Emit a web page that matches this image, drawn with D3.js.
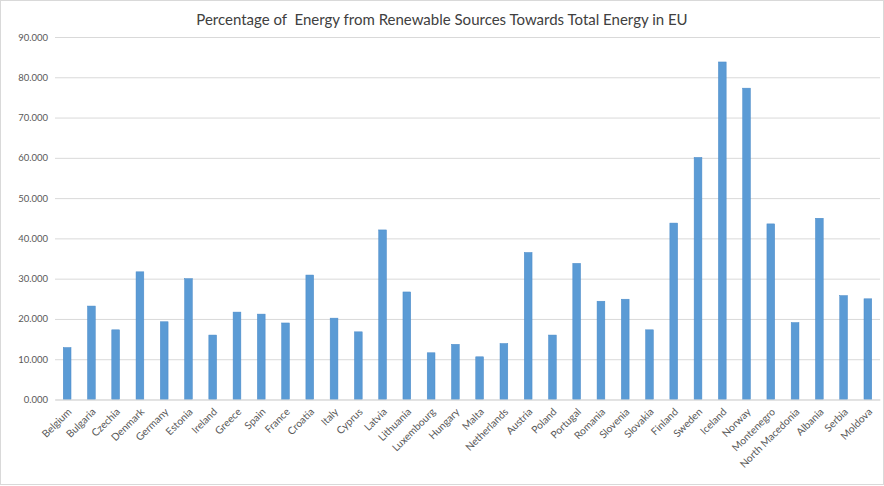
<!DOCTYPE html>
<html><head><meta charset="utf-8">
<script src="https://cdn.jsdelivr.net/npm/d3@7"></script>
<style>body{margin:0;background:#fff}svg{display:block}</style>
</head><body>
<script>
const countries = ["Belgium","Bulgaria","Czechia","Denmark","Germany","Estonia","Ireland","Greece","Spain","France","Croatia","Italy","Cyprus","Latvia","Lithuania","Luxembourg","Hungary","Malta","Netherlands","Austria","Poland","Portugal","Romania","Slovenia","Slovakia","Finland","Sweden","Iceland","Norway","Montenegro","North Macedonia","Albania","Serbia","Moldova"];
const shares = [12.9,23.2,17.3,31.7,19.3,30.0,16.0,21.7,21.2,19.0,30.9,20.2,16.8,42.1,26.7,11.6,13.7,10.6,13.9,36.5,16.0,33.8,24.4,24.9,17.3,43.8,60.1,83.8,77.3,43.6,19.1,45.0,25.8,25.0];
const yTicks = [0,10,20,30,40,50,60,70,80,90];
const title = "Percentage of  Energy from Renewable Sources Towards Total Energy in EU";

const W = 884, H = 486;
const svg = d3.select("body").append("svg").attr("width", W).attr("height", H);
svg.append("rect").attr("x",0.5).attr("y",0.5).attr("width",W-1).attr("height",H-2)
  .attr("fill","#fff").attr("stroke","#d9d9d9");

const x = d3.scaleBand().domain(countries).range([55, 880]).paddingInner(0.68).paddingOuter(0.34);
const y = d3.scaleLinear().domain([0, 90]).range([399.5, 37]);

const font = "Lato, 'Open Sans', sans-serif";

svg.append("text").attr("x", 442).attr("y", 25).attr("text-anchor","middle")
  .attr("font-family", font).attr("font-size", 15).attr("fill","#404040").attr("xml:space","preserve").text(title);

const yAxis = svg.append("g").attr("transform","translate(55,0)")
  .call(d3.axisLeft(y).tickValues(yTicks).tickFormat(d3.format(".3f")).tickSize(-825).tickPadding(7));
yAxis.select(".domain").remove();
yAxis.selectAll("line").attr("stroke","#d9d9d9").attr("stroke-width",1);
yAxis.selectAll("text").attr("font-family", font).attr("font-size", 9.5).attr("fill","#595959");

svg.append("g").selectAll("rect").data(countries).join("rect")
  .attr("x", d => x(d)).attr("width", x.bandwidth())
  .attr("y", (d,i) => y(shares[i])).attr("height", (d,i) => y(0) - y(shares[i]))
  .attr("fill","#5b9bd5").attr("stroke","#4a8ac8").attr("stroke-width",0.5);

const xAxis = svg.append("g").attr("transform", `translate(0,${y(0)})`)
  .call(d3.axisBottom(x).tickSize(0).tickPadding(0));
xAxis.select(".domain").attr("stroke","#d9d9d9");
xAxis.selectAll("text").attr("font-family", font).attr("font-size", 10.3).attr("fill","#595959")
  .attr("text-anchor","end").attr("dy", null).attr("y", null)
  .attr("transform","translate(5,13) rotate(-45)");
</script>
</body></html>
